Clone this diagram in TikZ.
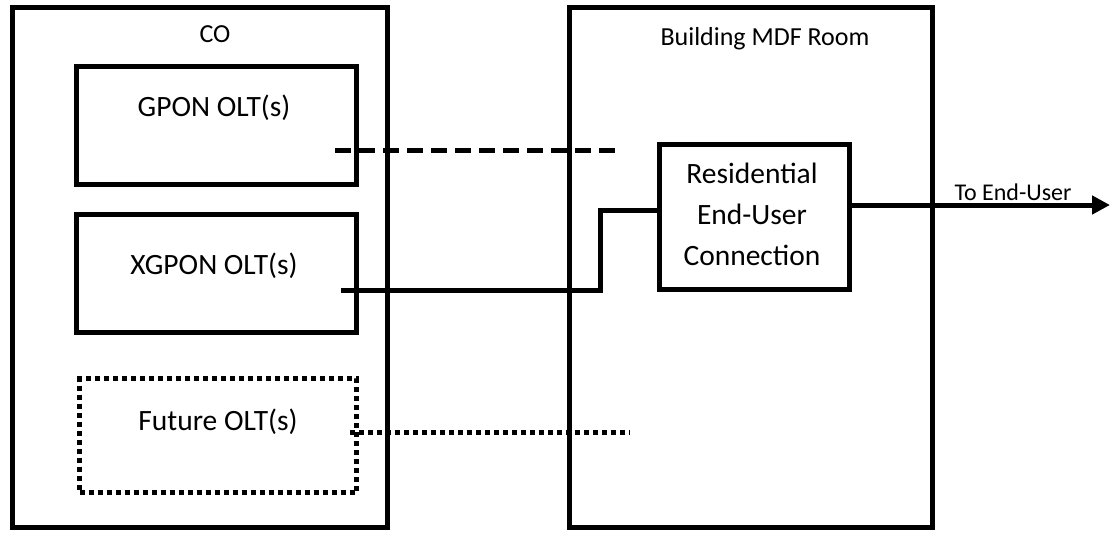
\documentclass[tikz,border=0pt]{standalone}
\usepackage{fontspec}
\setmainfont{Carlito}
\usetikzlibrary{arrows.meta,calc}
\begin{document}
\begin{tikzpicture}[x=1pt,y=-1pt,
  box/.style={draw,line width=5pt,rectangle,inner sep=0pt,anchor=north west},
  lbl/.style={font=\fontsize{29.5}{41}\selectfont,align=center},
  small/.style={font=\fontsize{26}{30}\selectfont},
  link/.style={line width=5pt},
  dashlink/.style={line width=5pt,dash pattern=on 16pt off 8pt},
  dotlink/.style={line width=5pt,dash pattern=on 5pt off 4pt},
]
\useasboundingbox (0,0) rectangle (1110,533);
% outer boxes
\node[box,minimum width=375pt,minimum height=520pt] (co) at (10,5) {};
\node[box,minimum width=363pt,minimum height=520pt] (mdf) at (567,5) {};
\node[small,anchor=base] (colbl) at (215,42) {CO};
\node[small,anchor=base] (mdflbl) at (765,45) {Building MDF Room};
% inner boxes
\node[box,minimum width=280pt,minimum height=118pt] (gpon) at (74,64) {};
\node[lbl] (gponlbl) at (214,108) {GPON OLT(s)};
\node[box,minimum width=280pt,minimum height=118pt] (xgpon) at (74,212) {};
\node[lbl] (xgponlbl) at (214,266) {XGPON OLT(s)};
\node[draw,line width=5pt,dash pattern=on 5pt off 4pt,rectangle,inner sep=0pt,anchor=north west,minimum width=277pt,minimum height=114pt] (future) at (77,376) {};
\node[lbl] (futurelbl) at (218,422) {Future OLT(s)};
\node[box,minimum width=190pt,minimum height=145pt] (res) at (657,142) {};
\node[lbl] (reslbl) at (752,214) {Residential\\End-User\\Connection};
% connectors
\coordinate (g1) at (335,150);
\coordinate (g2) at (616,150);
\draw[dashlink] (g1) -- (g2);
\coordinate (x1) at (341,290);
\coordinate (x2) at (600,290);
\coordinate (x3) at (600,210);
\draw[link,line join=miter] (x1) -- (x2) -- (x3) -- (x3 -| res.west);
\coordinate (f1) at (350,432);
\coordinate (f2) at (630,432);
\draw[dotlink] (f1) -- (f2);
\coordinate (endu) at (1110,205);
\draw[link,-{Triangle[length=18pt,width=18pt]}] (res.east |- endu) -- (endu);
\node[font=\fontsize{24}{28}\selectfont,anchor=base] (tolbl) at (1013,200) {To End-User};
\end{tikzpicture}
\end{document}
